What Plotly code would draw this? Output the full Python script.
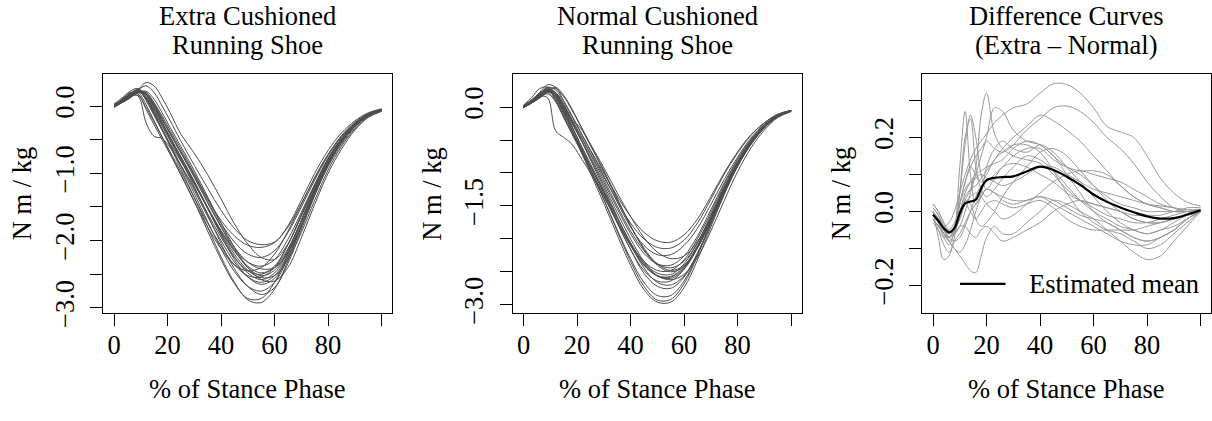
import plotly.graph_objects as go

W, H = 1212, 421
FONT = "Liberation Serif"
FS = 26.5
MINUS = "\u2212"

# ---------------- data ----------------
stance_pct = [0, 3, 6, 9, 12, 15, 18, 21, 25, 30, 35, 40, 45, 50, 55, 60, 65, 70, 75, 80, 85, 90, 95, 100]

extra_01 = [0.00, 0.05, 0.12, 0.24, 0.35, 0.30, 0.12, -0.10, -0.42, -0.70, -1.02, -1.38, -1.75, -2.05, -2.25, -2.28, -2.05, -1.62, -1.18, -0.78, -0.48, -0.27, -0.13, -0.06]
extra_02 = [0.02, 0.08, 0.15, 0.24, 0.30, 0.20, 0.00, -0.22, -0.52, -0.88, -1.22, -1.55, -1.82, -2.00, -2.06, -2.02, -1.80, -1.45, -1.07, -0.72, -0.44, -0.24, -0.11, -0.05]
extra_03 = [0.00, 0.07, 0.16, 0.24, 0.18, 0.00, -0.20, -0.40, -0.68, -1.02, -1.38, -1.70, -1.93, -2.07, -2.10, -2.03, -1.78, -1.40, -1.00, -0.66, -0.40, -0.22, -0.10, -0.04]
extra_04 = [-0.01, 0.06, 0.14, 0.22, 0.20, 0.05, -0.15, -0.36, -0.64, -1.00, -1.38, -1.74, -2.02, -2.20, -2.25, -2.15, -1.88, -1.50, -1.10, -0.74, -0.46, -0.26, -0.12, -0.05]
extra_05 = [0.01, 0.09, 0.18, 0.25, 0.16, -0.04, -0.26, -0.48, -0.76, -1.12, -1.50, -1.85, -2.13, -2.32, -2.38, -2.28, -1.98, -1.58, -1.16, -0.78, -0.49, -0.28, -0.13, -0.06]
extra_06 = [0.00, 0.10, 0.20, 0.18, -0.05, -0.28, -0.50, -0.72, -1.02, -1.42, -1.80, -2.12, -2.36, -2.45, -2.40, -2.20, -1.86, -1.46, -1.06, -0.72, -0.45, -0.25, -0.12, -0.05]
extra_07 = [0.00, 0.08, 0.16, 0.15, -0.25, -0.45, -0.48, -0.62, -0.88, -1.22, -1.60, -1.95, -2.25, -2.45, -2.50, -2.38, -2.06, -1.64, -1.20, -0.81, -0.50, -0.28, -0.13, -0.06]
extra_08 = [-0.02, 0.05, 0.13, 0.20, 0.18, 0.02, -0.20, -0.42, -0.70, -1.06, -1.44, -1.80, -2.14, -2.40, -2.52, -2.44, -2.14, -1.70, -1.24, -0.83, -0.52, -0.29, -0.14, -0.06]
extra_09 = [0.00, 0.07, 0.14, 0.21, 0.12, -0.08, -0.30, -0.52, -0.80, -1.15, -1.52, -1.88, -2.20, -2.44, -2.55, -2.52, -2.28, -1.88, -1.40, -0.95, -0.60, -0.34, -0.16, -0.07]
extra_10 = [0.01, 0.09, 0.17, 0.23, 0.14, -0.06, -0.28, -0.50, -0.78, -1.14, -1.52, -1.90, -2.24, -2.48, -2.58, -2.48, -2.16, -1.72, -1.26, -0.85, -0.53, -0.30, -0.14, -0.06]
extra_11 = [0.00, 0.06, 0.12, 0.20, 0.22, 0.10, -0.10, -0.32, -0.60, -0.96, -1.35, -1.74, -2.10, -2.40, -2.58, -2.60, -2.40, -1.96, -1.46, -1.00, -0.64, -0.36, -0.17, -0.08]
extra_12 = [-0.01, 0.07, 0.16, 0.22, 0.10, -0.12, -0.35, -0.58, -0.88, -1.25, -1.64, -2.00, -2.32, -2.54, -2.62, -2.52, -2.20, -1.76, -1.28, -0.86, -0.54, -0.30, -0.14, -0.06]
extra_13 = [0.00, 0.08, 0.15, 0.20, 0.16, -0.02, -0.24, -0.46, -0.75, -1.12, -1.52, -1.92, -2.28, -2.54, -2.65, -2.56, -2.24, -1.78, -1.30, -0.87, -0.54, -0.30, -0.14, -0.06]
extra_14 = [0.02, 0.10, 0.19, 0.24, 0.12, -0.10, -0.34, -0.58, -0.90, -1.30, -1.72, -2.12, -2.46, -2.68, -2.75, -2.62, -2.26, -1.78, -1.28, -0.85, -0.52, -0.29, -0.13, -0.05]
extra_15 = [0.00, 0.07, 0.15, 0.22, 0.18, 0.00, -0.24, -0.48, -0.80, -1.20, -1.62, -2.04, -2.42, -2.68, -2.80, -2.70, -2.34, -1.84, -1.33, -0.88, -0.54, -0.30, -0.14, -0.06]
extra_16 = [0.01, 0.09, 0.18, 0.20, 0.02, -0.22, -0.46, -0.70, -1.02, -1.42, -1.86, -2.28, -2.64, -2.86, -2.86, -2.62, -2.20, -1.70, -1.22, -0.81, -0.50, -0.28, -0.13, -0.05]
extra_17 = [0.00, 0.08, 0.16, 0.22, 0.10, -0.12, -0.36, -0.60, -0.94, -1.36, -1.80, -2.24, -2.62, -2.88, -2.92, -2.72, -2.30, -1.80, -1.30, -0.87, -0.54, -0.30, -0.14, -0.06]
extra_18 = [0.03, 0.12, 0.22, 0.26, 0.08, -0.14, -0.36, -0.56, -0.82, -1.16, -1.52, -1.86, -2.16, -2.38, -2.48, -2.40, -2.12, -1.70, -1.25, -0.84, -0.53, -0.30, -0.14, -0.06]
extra_19 = [0.00, 0.06, 0.13, 0.21, 0.20, 0.04, -0.18, -0.40, -0.68, -1.04, -1.42, -1.78, -2.10, -2.32, -2.42, -2.40, -2.18, -1.78, -1.32, -0.90, -0.57, -0.32, -0.15, -0.07]
extra_20 = [-0.02, 0.06, 0.14, 0.16, -0.02, -0.24, -0.46, -0.68, -0.98, -1.36, -1.74, -2.08, -2.36, -2.52, -2.54, -2.40, -2.06, -1.62, -1.18, -0.79, -0.49, -0.27, -0.12, -0.05]

normal_01 = [0.00, 0.10, 0.22, 0.34, 0.30, 0.10, -0.12, -0.35, -0.65, -1.00, -1.35, -1.66, -1.90, -2.03, -2.05, -1.94, -1.70, -1.36, -1.00, -0.68, -0.42, -0.24, -0.11, -0.05]
normal_02 = [0.02, 0.10, 0.20, 0.28, 0.22, 0.04, -0.18, -0.40, -0.70, -1.06, -1.42, -1.76, -2.00, -2.13, -2.14, -2.02, -1.76, -1.40, -1.02, -0.70, -0.43, -0.24, -0.11, -0.05]
normal_03 = [0.00, 0.08, 0.18, 0.30, 0.26, 0.08, -0.14, -0.36, -0.66, -1.04, -1.44, -1.82, -2.10, -2.24, -2.24, -2.10, -1.84, -1.48, -1.10, -0.76, -0.47, -0.26, -0.12, -0.05]
normal_04 = [0.00, 0.08, 0.16, 0.14, -0.36, -0.46, -0.56, -0.74, -1.00, -1.36, -1.74, -2.08, -2.34, -2.48, -2.48, -2.32, -2.00, -1.60, -1.18, -0.80, -0.50, -0.28, -0.13, -0.06]
normal_05 = [0.01, 0.09, 0.18, 0.26, 0.18, -0.02, -0.24, -0.46, -0.76, -1.14, -1.54, -1.92, -2.22, -2.38, -2.40, -2.26, -1.96, -1.56, -1.15, -0.79, -0.49, -0.27, -0.13, -0.05]
normal_06 = [-0.01, 0.06, 0.14, 0.24, 0.30, 0.18, -0.02, -0.26, -0.58, -0.96, -1.38, -1.80, -2.16, -2.40, -2.50, -2.42, -2.14, -1.74, -1.30, -0.90, -0.57, -0.32, -0.15, -0.06]
normal_07 = [0.00, 0.08, 0.16, 0.24, 0.16, -0.06, -0.30, -0.54, -0.86, -1.26, -1.68, -2.06, -2.36, -2.52, -2.54, -2.38, -2.06, -1.64, -1.21, -0.83, -0.52, -0.29, -0.14, -0.06]
normal_08 = [0.02, 0.11, 0.21, 0.26, 0.12, -0.10, -0.34, -0.58, -0.90, -1.30, -1.72, -2.10, -2.40, -2.56, -2.57, -2.42, -2.10, -1.68, -1.24, -0.85, -0.53, -0.30, -0.14, -0.06]
normal_09 = [0.00, 0.07, 0.15, 0.23, 0.20, 0.02, -0.22, -0.46, -0.78, -1.18, -1.60, -2.00, -2.34, -2.56, -2.62, -2.54, -2.28, -1.88, -1.42, -0.98, -0.62, -0.35, -0.16, -0.07]
normal_10 = [-0.01, 0.07, 0.16, 0.22, 0.10, -0.14, -0.38, -0.62, -0.94, -1.34, -1.76, -2.16, -2.48, -2.64, -2.64, -2.46, -2.12, -1.68, -1.23, -0.84, -0.52, -0.29, -0.13, -0.05]
normal_11 = [0.00, 0.09, 0.18, 0.26, 0.22, 0.04, -0.20, -0.45, -0.80, -1.22, -1.66, -2.08, -2.44, -2.66, -2.70, -2.56, -2.22, -1.78, -1.31, -0.89, -0.55, -0.31, -0.14, -0.06]
normal_12 = [0.01, 0.09, 0.19, 0.28, 0.18, -0.04, -0.28, -0.54, -0.88, -1.30, -1.74, -2.16, -2.52, -2.72, -2.75, -2.58, -2.22, -1.76, -1.29, -0.88, -0.55, -0.31, -0.14, -0.06]
normal_13 = [0.00, 0.08, 0.17, 0.25, 0.14, -0.08, -0.34, -0.60, -0.96, -1.40, -1.86, -2.30, -2.66, -2.86, -2.86, -2.64, -2.24, -1.76, -1.28, -0.87, -0.54, -0.30, -0.14, -0.06]
normal_14 = [0.02, 0.10, 0.20, 0.30, 0.20, -0.02, -0.28, -0.56, -0.94, -1.40, -1.88, -2.34, -2.72, -2.93, -2.92, -2.68, -2.26, -1.77, -1.29, -0.87, -0.54, -0.30, -0.14, -0.06]
normal_15 = [0.00, 0.07, 0.16, 0.24, 0.16, -0.08, -0.34, -0.62, -1.00, -1.46, -1.94, -2.40, -2.77, -2.96, -2.96, -2.74, -2.32, -1.82, -1.33, -0.90, -0.56, -0.31, -0.14, -0.06]
normal_16 = [0.03, 0.14, 0.28, 0.30, 0.10, -0.14, -0.38, -0.60, -0.90, -1.28, -1.68, -2.06, -2.38, -2.56, -2.60, -2.46, -2.14, -1.72, -1.27, -0.87, -0.54, -0.30, -0.14, -0.06]
normal_17 = [0.00, 0.06, 0.14, 0.22, 0.20, 0.00, -0.20, -0.30, -0.58, -0.98, -1.40, -1.80, -2.14, -2.38, -2.48, -2.40, -2.12, -1.72, -1.28, -0.88, -0.56, -0.31, -0.14, -0.06]
normal_18 = [0.00, 0.06, 0.14, 0.24, 0.28, 0.16, -0.04, -0.26, -0.56, -0.92, -1.30, -1.66, -1.98, -2.20, -2.30, -2.26, -2.04, -1.68, -1.27, -0.88, -0.56, -0.31, -0.14, -0.06]
normal_19 = [-0.01, 0.06, 0.14, 0.20, 0.08, -0.16, -0.40, -0.64, -0.96, -1.34, -1.74, -2.10, -2.40, -2.56, -2.58, -2.44, -2.12, -1.70, -1.26, -0.86, -0.54, -0.30, -0.14, -0.06]
normal_20 = [0.01, 0.09, 0.19, 0.27, 0.22, 0.04, -0.20, -0.42, -0.72, -1.10, -1.50, -1.88, -2.18, -2.38, -2.44, -2.34, -2.06, -1.66, -1.24, -0.85, -0.53, -0.30, -0.14, -0.06]

diff_pct = [0, 2, 4, 6, 8, 10, 12, 14, 16, 18, 20, 23, 26, 30, 35, 40, 45, 50, 55, 60, 65, 70, 75, 80, 85, 90, 95, 100]

diff_01 = [0.00, -0.02, -0.04, -0.03, 0.00, 0.05, 0.10, 0.14, 0.17, 0.19, 0.21, 0.24, 0.26, 0.28, 0.29, 0.32, 0.345, 0.343, 0.32, 0.28, 0.23, 0.215, 0.20, 0.15, 0.09, 0.05, 0.025, 0.015]
diff_02 = [-0.01, -0.03, -0.06, -0.07, -0.04, 0.02, 0.08, 0.12, 0.15, 0.17, 0.19, 0.17, 0.16, 0.18, 0.22, 0.25, 0.28, 0.285, 0.27, 0.24, 0.20, 0.17, 0.13, 0.08, 0.04, 0.01, 0.00, 0.005]
diff_03 = [0.00, -0.03, -0.07, -0.09, -0.05, 0.12, 0.27, 0.10, 0.02, 0.05, 0.12, 0.17, 0.19, 0.17, 0.16, 0.18, 0.16, 0.12, 0.08, 0.04, 0.00, -0.03, -0.05, -0.06, -0.05, -0.03, -0.01, 0.00]
diff_04 = [-0.02, -0.05, -0.09, -0.11, -0.07, 0.05, 0.20, 0.25, 0.12, 0.06, 0.04, 0.06, 0.09, 0.12, 0.15, 0.14, 0.11, 0.07, 0.03, 0.00, -0.02, -0.04, -0.05, -0.06, -0.05, -0.04, -0.02, 0.00]
diff_05 = [0.01, -0.01, -0.04, -0.06, -0.05, -0.02, 0.03, 0.06, 0.12, 0.26, 0.32, 0.21, 0.17, 0.15, 0.14, 0.13, 0.10, 0.06, 0.03, 0.01, -0.01, -0.02, -0.03, -0.03, -0.02, -0.01, 0.00, 0.005]
diff_06 = [0.02, 0.00, -0.03, -0.05, -0.06, -0.04, 0.00, 0.05, 0.10, 0.15, 0.20, 0.28, 0.27, 0.22, 0.19, 0.18, 0.15, 0.12, 0.10, 0.07, 0.04, 0.02, 0.01, 0.00, 0.00, 0.00, 0.01, 0.01]
diff_07 = [-0.01, -0.03, -0.05, -0.07, -0.05, -0.01, 0.04, 0.06, 0.07, 0.09, 0.11, 0.14, 0.17, 0.20, 0.23, 0.26, 0.245, 0.22, 0.19, 0.15, 0.11, 0.07, 0.04, 0.02, 0.01, 0.00, 0.00, 0.005]
diff_08 = [-0.02, -0.04, -0.06, -0.08, -0.10, -0.12, -0.14, -0.16, -0.165, -0.12, -0.07, -0.04, -0.06, -0.06, -0.03, 0.00, 0.03, 0.02, 0.00, -0.02, -0.05, -0.08, -0.11, -0.13, -0.12, -0.08, -0.04, 0.00]
diff_09 = [0.00, -0.07, -0.13, -0.12, -0.08, -0.06, -0.03, 0.00, 0.02, 0.04, 0.06, 0.05, 0.03, 0.02, 0.03, 0.04, 0.03, 0.01, -0.01, -0.02, -0.03, -0.05, -0.07, -0.08, -0.07, -0.05, -0.02, 0.00]
diff_10 = [-0.03, -0.05, -0.07, -0.06, -0.04, 0.00, 0.05, 0.08, 0.10, 0.11, 0.12, 0.13, 0.14, 0.17, 0.19, 0.18, 0.15, 0.10, 0.05, 0.00, -0.03, -0.05, -0.07, -0.08, -0.07, -0.05, -0.02, 0.00]
diff_11 = [0.00, -0.02, -0.05, -0.07, -0.08, -0.07, -0.04, 0.00, 0.04, 0.07, 0.08, 0.10, 0.12, 0.15, 0.17, 0.17, 0.14, 0.12, 0.11, 0.11, 0.10, 0.07, 0.04, 0.02, 0.01, 0.00, 0.00, 0.00]
diff_12 = [-0.02, -0.04, -0.06, -0.07, -0.06, -0.04, -0.04, -0.06, -0.07, -0.05, -0.04, -0.06, -0.08, -0.07, -0.05, -0.03, 0.00, 0.02, 0.03, 0.02, 0.01, 0.00, -0.02, -0.03, -0.03, -0.02, -0.01, 0.00]
diff_13 = [0.01, -0.01, -0.04, -0.05, -0.03, 0.00, 0.02, 0.00, -0.02, 0.00, 0.02, 0.03, 0.02, 0.01, 0.02, 0.03, 0.01, -0.02, -0.04, -0.05, -0.05, -0.05, -0.05, -0.04, -0.03, -0.02, -0.01, 0.00]
diff_14 = [-0.01, -0.03, -0.06, -0.07, -0.05, 0.02, 0.08, 0.12, 0.10, 0.08, 0.10, 0.14, 0.16, 0.18, 0.18, 0.16, 0.11, 0.05, 0.00, -0.03, -0.05, -0.06, -0.08, -0.10, -0.09, -0.06, -0.03, 0.00]
diff_15 = [0.00, -0.02, -0.05, -0.06, -0.04, 0.02, 0.06, 0.08, 0.09, 0.10, 0.09, 0.08, 0.07, 0.08, 0.10, 0.12, 0.12, 0.10, 0.08, 0.06, 0.05, 0.04, 0.03, 0.02, 0.015, 0.01, 0.005, 0.005]
diff_16 = [-0.02, -0.04, -0.06, -0.07, -0.05, -0.02, 0.02, 0.04, 0.05, 0.04, 0.02, 0.00, -0.02, -0.01, 0.02, 0.05, 0.08, 0.10, 0.11, 0.10, 0.09, 0.08, 0.06, 0.04, 0.02, 0.01, 0.00, 0.00]
diff_17 = [0.00, -0.03, -0.06, -0.08, -0.06, -0.01, 0.03, 0.02, -0.02, -0.04, -0.03, 0.00, 0.04, 0.08, 0.12, 0.16, 0.17, 0.15, 0.11, 0.07, 0.03, 0.00, -0.02, -0.03, -0.03, -0.02, -0.01, 0.00]
diff_18 = [0.02, 0.00, -0.03, -0.06, -0.04, 0.05, 0.18, 0.26, 0.20, 0.10, 0.06, 0.09, 0.12, 0.13, 0.12, 0.10, 0.08, 0.05, 0.03, 0.02, 0.01, 0.00, -0.01, -0.01, -0.01, 0.00, 0.00, 0.00]
diff_19 = [-0.01, -0.03, -0.05, -0.08, -0.10, -0.11, -0.09, -0.05, 0.00, 0.04, 0.06, 0.05, 0.04, 0.03, 0.03, 0.04, 0.02, 0.00, -0.02, -0.04, -0.06, -0.08, -0.09, -0.09, -0.07, -0.05, -0.02, 0.00]

diff_mean = [-0.009, -0.025, -0.045, -0.056, -0.045, -0.005, 0.022, 0.027, 0.032, 0.062, 0.085, 0.091, 0.093, 0.095, 0.108, 0.121, 0.112, 0.094, 0.072, 0.046, 0.026, 0.011, -0.002, -0.013, -0.019, -0.018, -0.008, 0.003]

extra_curves = [extra_01, extra_02, extra_03, extra_04, extra_05, extra_06, extra_07, extra_08, extra_09, extra_10,
                extra_11, extra_12, extra_13, extra_14, extra_15, extra_16, extra_17, extra_18, extra_19, extra_20]
normal_curves = [normal_01, normal_02, normal_03, normal_04, normal_05, normal_06, normal_07, normal_08, normal_09, normal_10,
                 normal_11, normal_12, normal_13, normal_14, normal_15, normal_16, normal_17, normal_18, normal_19, normal_20]
diff_curves = [diff_01, diff_02, diff_03, diff_04, diff_05, diff_06, diff_07, diff_08, diff_09, diff_10,
               diff_11, diff_12, diff_13, diff_14, diff_15, diff_16, diff_17, diff_18, diff_19]

titles = [("Extra Cushioned", "Running Shoe"),
          ("Normal Cushioned", "Running Shoe"),
          ("Difference Curves", "(Extra " + "\u2013" + " Normal)")]
x_title = "% of Stance Phase"
y_title = "N m / kg"
legend_label = "Estimated mean"

x_ticks = [0, 20, 40, 60, 80, 100]
x_ticktext = ["0", "20", "40", "60", "80", ""]
y1_ticks = [-3.0, -2.5, -2.0, -1.5, -1.0, -0.5, 0.0]
y1_ticktext = [MINUS + "3.0", "", MINUS + "2.0", "", MINUS + "1.0", "", "0.0"]
y2_ticks = [-3.0, -2.5, -2.0, -1.5, -1.0, -0.5, 0.0]
y2_ticktext = [MINUS + "3.0", "", "", MINUS + "1.5", "", "", "0.0"]
y3_ticks = [-0.2, -0.1, 0.0, 0.1, 0.2, 0.3]
y3_ticktext = [MINUS + "0.2", "", "0.0", "", "0.2", ""]

# ---------------- layout geometry (pixels) ----------------
box_left = [103.3, 512.8, 922.3]
box_w = 289.0
box_top, box_bot = 76.5, 324.5
y_ranges = [[-3.075, 0.480], [-3.124, 0.505], [-0.274, 0.372]]
x_range = [-4, 104]

LINE_DARK = "#4d4d4d"
LINE_LIGHT = "#999999"

fig = go.Figure()

def add(curves, xs, idx, color, width):
    for c in curves:
        fig.add_trace(go.Scatter(x=xs, y=c, mode="lines", xaxis="x" + ("" if idx == 1 else str(idx)),
                                 yaxis="y" + ("" if idx == 1 else str(idx)),
                                 line=dict(color=color, width=width, shape="spline", smoothing=1.0),
                                 hoverinfo="skip", showlegend=False))

add(extra_curves, stance_pct, 1, LINE_DARK, 1)
add(normal_curves, stance_pct, 2, LINE_DARK, 1)
add(diff_curves, diff_pct, 3, LINE_LIGHT, 1)
add([diff_mean], diff_pct, 3, "black", 2.2)

tickfont = dict(family=FONT, size=FS, color="black")
yticks = [(y1_ticks, y1_ticktext), (y2_ticks, y2_ticktext), (y3_ticks, y3_ticktext)]

layout = dict(width=W, height=H, autosize=False, margin=dict(l=0, r=0, t=0, b=0, pad=0),
              paper_bgcolor="white", plot_bgcolor="white", showlegend=False,
              font=dict(family=FONT, size=FS, color="black"))
for i in range(3):
    sfx = "" if i == 0 else str(i + 1)
    x0 = box_left[i] / W
    x1 = (box_left[i] + box_w) / W
    layout["xaxis" + sfx] = dict(domain=[x0, x1], range=x_range, anchor="y" + sfx,
                                 showline=True, mirror=True, linecolor="black", linewidth=1,
                                 ticks="outside", ticklen=12, tickwidth=1, tickcolor="black",
                                 tickvals=x_ticks, ticktext=x_ticktext, tickfont=tickfont,
                                 ticklabelstandoff=-4,
                                 showgrid=False, zeroline=False, fixedrange=True)
    layout["yaxis" + sfx] = dict(domain=[1 - box_bot / H, 1 - box_top / H], range=y_ranges[i],
                                 anchor="x" + sfx,
                                 showline=True, mirror=True, linecolor="black", linewidth=1,
                                 ticks="outside", ticklen=12, tickwidth=1, tickcolor="black",
                                 tickvals=yticks[i][0], ticktext=yticks[i][1], tickfont=tickfont,
                                 tickangle=-90, ticklabelstandoff=6,
                                 showgrid=False, zeroline=False, fixedrange=True)
fig.update_layout(**layout)

def px_x(p):
    return p / W

def px_y(p):
    return 1 - p / H

txt_font = dict(family=FONT, size=FS, color="black")
annotations = []
for i in range(3):
    cx = box_left[i] + box_w / 2
    annotations.append(dict(text=titles[i][0], x=px_x(cx), y=px_y(0.0), xref="paper", yref="paper",
                            xanchor="center", yanchor="top", borderpad=0, showarrow=False, font=txt_font))
    annotations.append(dict(text=titles[i][1], x=px_x(cx), y=px_y(30.0), xref="paper", yref="paper",
                            xanchor="center", yanchor="top", borderpad=0, showarrow=False, font=txt_font))
    annotations.append(dict(text=x_title, x=px_x(cx), y=px_y(419.5), xref="paper", yref="paper",
                            xanchor="center", yanchor="bottom", borderpad=0, showarrow=False, font=txt_font))
    annotations.append(dict(text=y_title, x=px_x(box_left[i] - 80.5), y=px_y((box_top + box_bot) / 2),
                            xref="paper", yref="paper", textangle=-90,
                            xanchor="center", yanchor="middle", showarrow=False, font=txt_font))

annotations.append(dict(text=legend_label, x=px_x(1027.3), y=px_y(294.5), xref="paper", yref="paper",
                        xanchor="left", yanchor="middle", showarrow=False, font=txt_font))
fig.update_layout(annotations=annotations)
fig.add_shape(type="line", xref="paper", yref="paper", x0=px_x(960), x1=px_x(1005.5),
              y0=px_y(294.4), y1=px_y(294.4), line=dict(color="black", width=2.2))

fig.write_html("out.html")
